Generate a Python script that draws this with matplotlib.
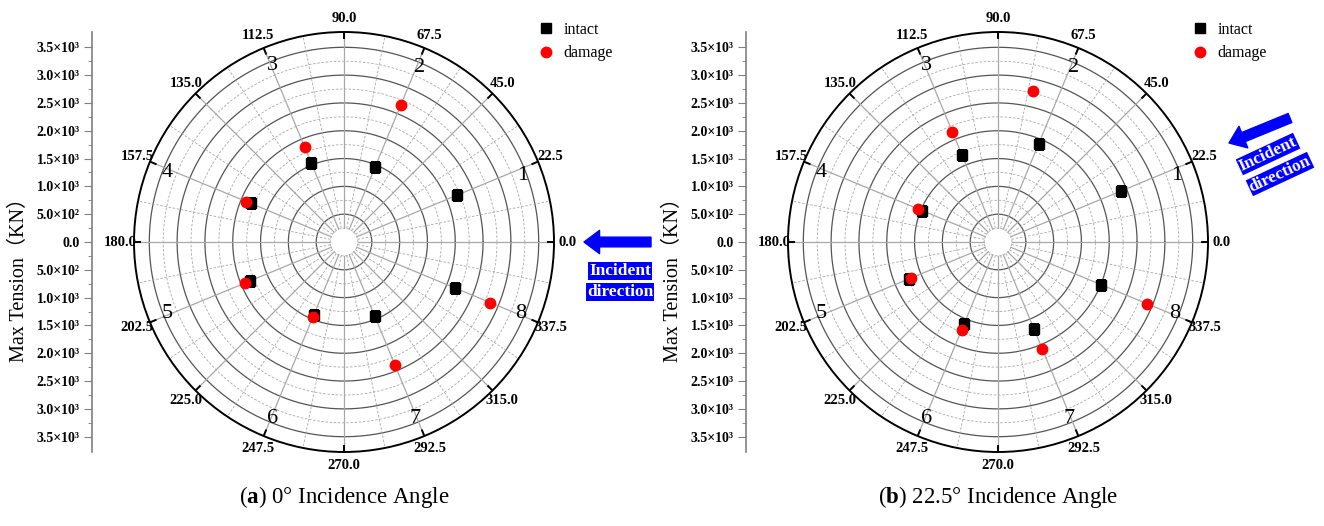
import matplotlib
matplotlib.use("Agg")
import matplotlib.pyplot as plt
import numpy as np

plt.rcParams['font.family'] = ['Liberation Serif', 'Noto Sans CJK SC', 'DejaVu Sans']
plt.rcParams['mathtext.fontset'] = 'custom'
plt.rcParams['mathtext.rm'] = 'Liberation Serif'
plt.rcParams['mathtext.bf'] = 'Liberation Serif:bold'

# mooring line directions (deg)
line_angles = [22.5, 67.5, 112.5, 157.5, 202.5, 247.5, 292.5, 337.5]
line_names = ['1', '2', '3', '4', '5', '6', '7', '8']

# (a) 0 deg incidence -- max tension (kN), line 1 broken in damage case
intact_a = [2200, 1450, 1530, 1815, 1820, 1430, 1435, 2160]
damage_a = [np.nan, 2670, 1840, 1900, 1920, 1460, 2400, 2850]
damage_angles_a = [22.5, 67.5, 112.5, 157.5, 202.5, 247.5, 292.5, 337.5]

# (b) 22.5 deg incidence
intact_b = [2400, 1915, 1690, 1475, 1730, 1605, 1695, 2000]
damage_b = [np.nan, 2780, 2140, 1565, 1695, 1710, 2080, 2900]
damage_angles_b = [22.5, 77.0, 112.5, 157.5, 202.5, 247.5, 292.5, 337.5]

captions = [r'($\mathbf{a}$) 0° Incidence Angle', r'($\mathbf{b}$) 22.5° Incidence Angle']

rmax = 3775
r_hole = 250


def polar_panel(fig, cx, intact, damage, dmg_angles, caption):
    W, H = 1324, 526
    rad = 210
    ax = fig.add_axes([(cx - rad) / W, (H - 242 - rad) / H, 2 * rad / W, 2 * rad / H],
                      projection='polar')
    ax.set_ylim(0, rmax)
    ax.set_xticks([])
    ax.set_yticks([])
    ax.grid(False)
    ax.spines['polar'].set_linewidth(1.4)
    ax.spines['polar'].set_color('black')

    full = np.linspace(0, 2 * np.pi, 400)
    for r in np.arange(500, 3501, 500):
        ax.plot(full, np.full_like(full, r), color='#555555', lw=0.9, zorder=1)
    for r in np.arange(250, 3300, 500):
        ax.plot(full, np.full_like(full, r), color='#a8a8a8', lw=0.6,
                ls=(0, (3, 2)), zorder=1)
    for a in np.arange(0, 360, 22.5):
        t = np.radians(a)
        ax.plot([t, t], [r_hole, rmax], color='#a8a8a8', lw=0.9, zorder=1)
        ax.plot([t, t], [rmax - 110, rmax], color='black', lw=1.4, zorder=2)
        ax.text(t, rmax * 1.065, '%.1f' % a, ha='center', va='center',
                fontsize=10.5, fontweight='bold')
    for a in np.arange(11.25, 360, 22.5):
        t = np.radians(a)
        ax.plot([t, t], [r_hole, rmax], color='#a8a8a8', lw=0.6,
                ls=(0, (3, 2)), zorder=1)

    name_angles = [20.5, 66.5, 112, 158.5, 202, 248, 292, 338]
    for a, s in zip(name_angles, line_names):
        ax.text(np.radians(a), 3420, s, ha='center', va='center', fontsize=16)

    ax.plot(np.radians(line_angles), intact, 's', color='black', ms=6.5,
            ls='none', label='intact', zorder=5)
    ax.plot(np.radians(dmg_angles), damage, 'o', color='red', ms=7.5,
            ls='none', label='damage', zorder=6)

    ax.legend(loc='upper left', bbox_to_anchor=((cx + 194) / W, 1 - 22 / H),
              bbox_transform=fig.transFigure, frameon=False, fontsize=11.5,
              handletextpad=0.6, labelspacing=0.45, handlelength=1.0,
              borderaxespad=0, borderpad=0)

    # radial scale drawn as a vertical axis on the left
    yax = fig.add_axes([(cx - 252) / W, (H - 242 - rad) / H, 0.001, 2 * rad / H])
    yax.set_ylim(-rmax, rmax)
    yax.set_xticks([])
    for side in ['top', 'right', 'bottom']:
        yax.spines[side].set_visible(False)
    yax.spines['left'].set_color('#808080')
    yax.spines['left'].set_linewidth(1.2)
    ticks = np.arange(-3500, 3501, 500)
    labels = []
    for v in ticks:
        v = abs(v)
        if v == 0:
            labels.append('0.0')
        elif v < 1000:
            labels.append('%.1f×10²' % (v / 100))
        else:
            labels.append('%.1f×10³' % (v / 1000))
    yax.set_yticks(ticks)
    yax.set_yticklabels(labels, fontsize=10, fontweight='bold')
    yax.set_yticks(np.arange(-3250, 3300, 500), minor=True)
    yax.tick_params(axis='y', which='major', length=6, color='#808080', pad=3)
    yax.tick_params(axis='y', which='minor', length=3, color='#808080')
    fig.text((cx - 325) / W, 1 - 275 / H, 'Max Tension（KN）', rotation=90,
             ha='center', va='center', fontsize=14.5)

    fig.text(cx / W, 1 - 497 / H, caption, ha='center', va='center', fontsize=16.5)
    return ax


fig = plt.figure(figsize=(13.24, 5.26), dpi=100)
ax_a = polar_panel(fig, 344, intact_a, damage_a, damage_angles_a, captions[0])
ax_b = polar_panel(fig, 998, intact_b, damage_b, damage_angles_b, captions[1])

blue = '#0000ff'
arrow_style = 'simple,head_length=1.6,head_width=2.4,tail_width=1.0'
# incident direction, panel a
ax_a.annotate('', xy=(584, 526 - 242), xytext=(651, 526 - 242), xycoords='figure pixels',
              textcoords='figure pixels',
              arrowprops=dict(arrowstyle=arrow_style, color=blue, mutation_scale=7,
                              shrinkA=0, shrinkB=0),
              annotation_clip=False)
for txt, y in [('Incident', 271), ('direction', 292)]:
    fig.text(620 / 1324, 1 - y / 526, txt, ha='center', va='center', color='white',
             fontsize=12.5, fontweight='bold',
             bbox=dict(facecolor=blue, edgecolor='none', pad=0.5))

# incident direction, panel b (rotated with the waves)
ax_b.annotate('', xy=(1229, 526 - 143), xytext=(1290, 526 - 118), xycoords='figure pixels',
              textcoords='figure pixels',
              arrowprops=dict(arrowstyle=arrow_style, color=blue, mutation_scale=7,
                              shrinkA=0, shrinkB=0),
              annotation_clip=False)
for txt, x, y in [('Incident', 1268, 154), ('direction', 1280, 174)]:
    fig.text(x / 1324, 1 - y / 526, txt, ha='center', va='center', color='white',
             fontsize=12.5, fontweight='bold', rotation=25, rotation_mode='anchor',
             bbox=dict(facecolor=blue, edgecolor='none', pad=0.5))

fig.savefig('out.png', dpi=100)
